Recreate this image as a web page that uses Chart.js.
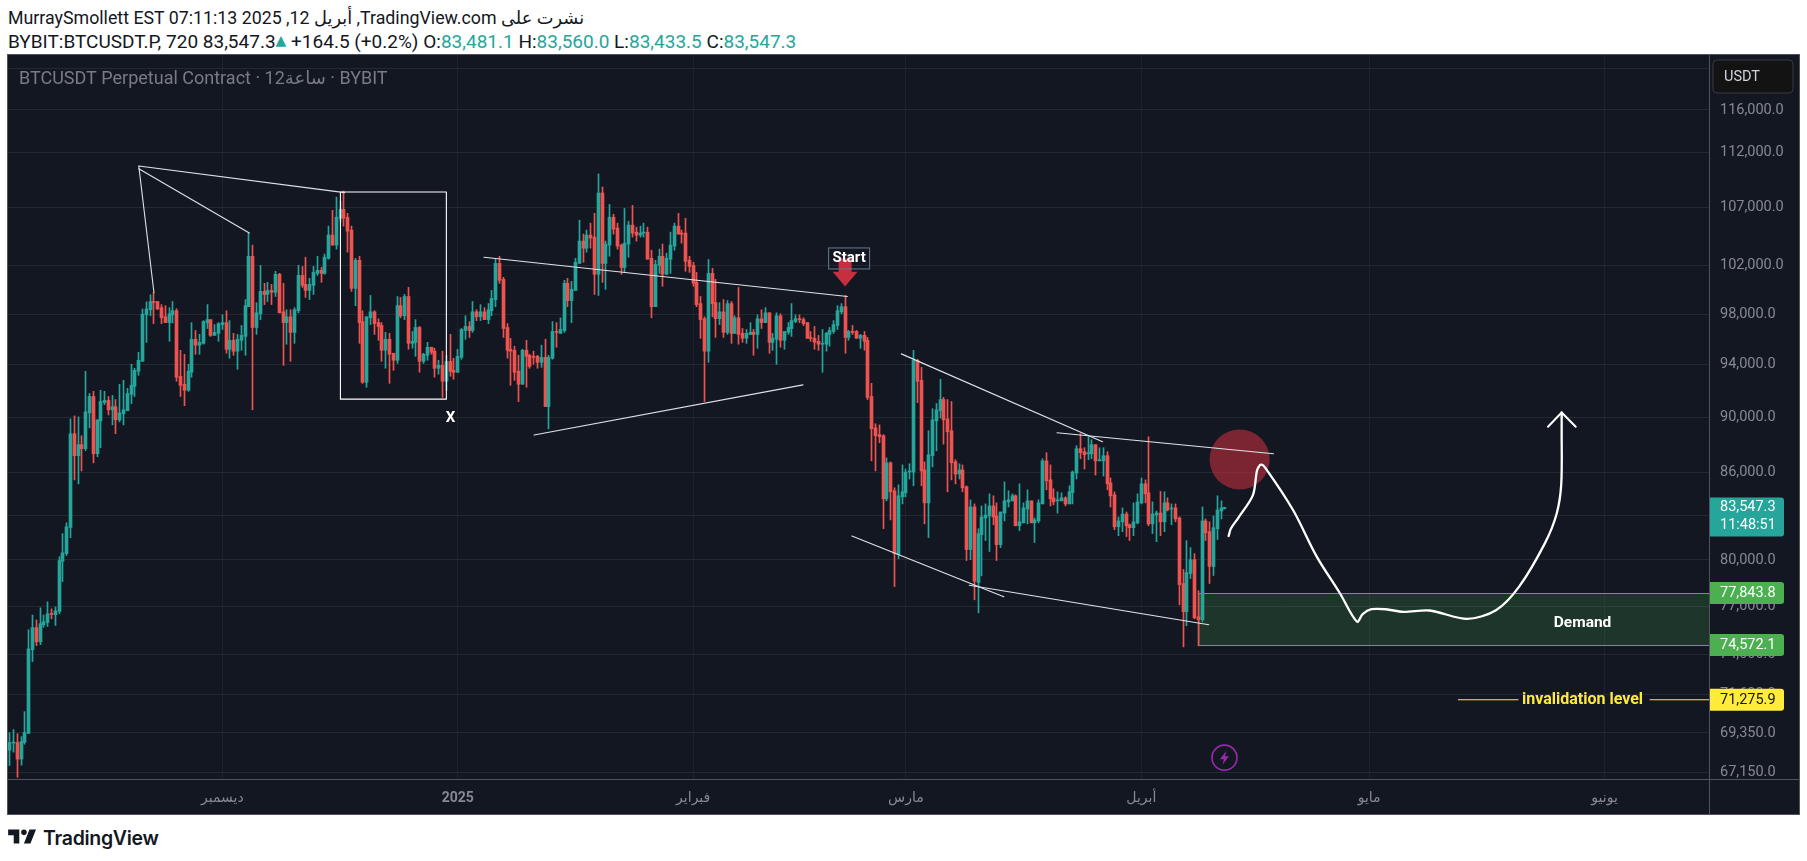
<!DOCTYPE html>
<html><head><meta charset="utf-8">
<script src="https://cdn.jsdelivr.net/npm/chart.js@4/dist/chart.umd.min.js"></script>
<style>
html,body{margin:0;padding:0;background:#fff;width:1807px;height:861px;overflow:hidden}
.h{position:absolute;left:8px;white-space:nowrap;color:#131722;font-family:Roboto,"DejaVu Sans",sans-serif;line-height:22px}
#l1{top:7px;font-size:17.8px}#l2{top:29px;font-size:19px}
.g{color:#26a69a}
#wrap{position:absolute;left:8px;top:55px;width:1791px;height:759px;outline:1px solid #50535e}
#logo{position:absolute;left:6px;top:824px}
#tv{position:absolute;left:43px;top:826px;font:600 19.5px Inter,Roboto,sans-serif;color:#131722;letter-spacing:-.3px}
</style></head><body>
<div class="h" id="l1">MurraySmollett EST 07:11:13 2025 ,12 <bdi>أبريل</bdi> ,TradingView.com <bdi>نشرت على</bdi></div>
<div class="h" id="l2">BYBIT:BTCUSDT.P, 720 83,547.3<span class="g" style="font-size:14px;vertical-align:3px">▲</span> +164.5 (+0.2%) O:<span class="g">83,481.1</span> H:<span class="g">83,560.0</span> L:<span class="g">83,433.5</span> C:<span class="g">83,547.3</span></div>
<div id="wrap"><canvas id="c" width="1791" height="759"></canvas></div>
<svg id="logo" width="34" height="26" viewBox="0 0 36 28"><path fill="#131722" d="M14 6H2v6h6v9h6V6Zm12 15h-7l6-15h7l-6 15Zm-7-9a3 3 0 1 0 0-6 3 3 0 0 0 0 6Z"/></svg>
<div id="tv">TradingView</div>
<script>
const opens=[68370,68770,68810,67870,68820,69330,74290,75650,74770,75830,
75980,76520,76460,76670,79910,80420,82180,88790,87190,87990,
87700,90330,91560,87330,89730,91100,91260,90560,90790,89810,
90260,90490,91720,92330,93490,94260,97950,98360,99030,99030,
98530,97790,97320,97950,98280,93100,92490,92030,93410,95990,
95520,95670,97320,97560,96300,96460,97160,97320,95200,95910,
95050,95910,96220,98610,102800,96930,98030,99860,99610,99940,
99780,101280,98190,97320,97790,96540,98280,101190,100440,99940,
100360,101360,101610,101360,102630,104610,103750,106080,106860,106170,
105050,100110,102460,97400,92640,97710,98190,97320,97090,95120,
95990,94890,94340,98690,97870,99440,95670,95750,96930,94260,
94730,95360,95050,93720,93950,92720,94260,93560,93410,94570,
96690,97010,96690,98190,97790,98190,97560,98280,99190,102200,
100860,96930,95200,95120,93490,92490,95120,94730,94650,94650,
94180,94570,90800,94500,96610,96460,96690,100530,99110,99940,
102200,104100,103490,104610,104440,101280,108310,102200,103750,106170,
105220,103750,101860,103840,105480,104870,104610,104790,104870,102630,
98610,102030,102800,101280,102550,103670,105390,104790,104790,102460,
102030,100610,98860,97630,95050,101360,98940,97630,98190,96540,
98860,96460,97710,96460,96070,96380,96540,96380,97630,97320,
98110,95750,95990,97870,95910,96540,96850,97400,97630,97560,
97320,96140,96070,95830,95600,95600,96380,96610,97090,98190,
98610,96140,96610,96610,96070,96300,95910,91560,89220,88720,
88640,84140,86680,84700,80360,84280,84560,86020,86020,94340,
92790,86170,83860,87190,89730,90490,91330,89880,89010,86750,
85880,86170,84980,80690,83580,78520,81690,82820,82960,83650,
82960,81020,83160,83930,84000,84350,82290,82490,83440,84000,
82490,82620,83790,86820,85470,84210,84000,84000,84210,83790,
84580,85950,87700,87480,87330,87330,87990,86820,86820,87190,
85260,84420,82220,82560,83090,82360,82160,82490,83860,85190,
84560,82420,83020,83160,82560,83860,83440,83510,82820,78460,
76650,79110,80020,76330,76150,82620,81890,79570,82090,83300,
83481.1];
const closes=[68810,68810,67870,68860,69370,74330,75650,74770,75900,76020,
76520,76480,76710,79960,80470,82220,88790,87190,87990,87700,
90410,91560,87330,89810,91180,91260,90560,90790,89810,90330,
90560,91790,92410,93560,94340,98000,98420,99030,98940,98440,
97710,97320,98030,98280,93030,92410,92030,93490,95990,95520,
95750,97400,97560,96300,96540,97240,97320,95200,95910,95050,
95990,96300,98690,102800,96930,98110,99860,99610,99940,99780,
101280,98110,97320,97790,96540,98360,101190,100360,99940,100440,
101440,101610,101360,102720,104620,103750,106170,106860,106080,104960,
100110,102460,97320,92640,97790,98190,97240,97010,95120,95990,
94810,94340,98690,97870,99440,95670,95830,96930,94260,94810,
95360,94970,93720,93950,92720,94260,93490,93410,94650,96770,
97010,96690,98190,97790,98190,97560,98360,99280,102200,100780,
96850,95120,95050,93410,92490,95120,94650,93870,94570,94180,
94570,90800,94570,96610,96540,96770,100530,99110,100030,102290,
104100,103490,104610,104360,101280,108310,102200,103840,106170,105130,
103670,101860,103920,105480,104790,104610,104790,104870,102550,98610,
102110,102800,101280,102630,103750,105390,104700,104700,102370,101940,
100530,98780,97560,95050,101360,98860,97630,98190,96540,98860,
96460,97710,96380,96070,96460,96540,96380,97630,97320,98110,
95750,96070,97870,95910,96610,96930,97480,97630,97560,97240,
96070,96070,95750,95600,95670,96460,96690,97160,98280,98610,
96140,96610,96540,96070,96300,95830,91490,89150,88640,88570,
84140,86680,84630,80420,84350,84630,86020,86100,94340,92720,
86100,83860,87260,89810,90560,91330,89810,88930,86680,85880,
86170,84910,80690,83580,78610,81760,82890,83020,83650,82890,
81020,83230,84000,84070,84350,82290,82560,83510,84000,82490,
82690,83860,86820,85400,84140,83930,84070,84210,83790,84630,
86020,87700,87410,87260,87410,87990,86820,86900,87190,85190,
84350,82220,82620,83090,82290,82160,82560,83930,85190,84490,
82420,83090,83160,82560,83860,83370,83510,82760,78390,76650,
79170,80020,76270,76150,82620,81820,79570,82160,83370,83510,
83547.3];
const highs=[69370,69540,69310,69140,70580,75520,76440,76130,76900,76440,
77280,76830,76960,80220,81760,82490,89880,90100,90030,88640,
93490,91790,91950,89810,92030,91950,91560,91640,91330,92490,
92800,92180,94030,93720,94970,98420,99000,99580,99750,99030,
98780,98690,98530,99030,98440,95120,94810,94030,97320,96690,
96380,97480,98780,97560,97160,97320,97950,98280,97480,96460,
96380,97090,99190,104790,103750,98940,102030,100530,100610,100440,
101530,101360,100530,98360,98360,98530,102030,101940,102720,100940,
101940,102800,101860,102980,105390,106770,107940,107580,108490,106510,
105390,102630,102800,98280,97790,99530,98280,97630,97320,96540,
96460,94890,99440,99360,99610,100190,96610,97560,97010,94890,
95750,95360,95280,94340,95050,94730,96380,94500,95200,96850,
97870,97400,99030,98360,98770,98530,98860,99940,102630,102800,
101030,97240,96060,95440,94730,95200,95910,94810,95050,94730,
95520,95990,94730,97400,97320,97710,100780,100940,100690,102630,
105910,104700,105050,105650,106510,110040,108850,104100,107300,106430,
105650,103840,106940,105820,107210,105300,105390,105650,105300,103320,
102460,103410,103840,103060,104870,105650,106510,105050,106080,102800,
102290,101440,99440,97790,102530,101780,100860,98940,99190,99110,
99030,97870,100190,96850,96770,97320,96770,97950,98360,98530,
98110,96460,98110,98030,96610,97320,98860,97950,97950,97710,
97320,96610,97010,96300,96770,96540,96930,97480,98690,98860,
99530,96690,97090,96690,96380,96610,96140,92560,89520,89440,
88720,87040,86750,84910,85120,86530,86240,86610,95120,94420,
93790,86750,89010,90640,91030,92870,91490,91330,91180,86900,
86610,86530,85050,84070,83790,82090,83650,83790,84490,84350,
83860,83230,85330,84700,84490,84420,85190,83860,84770,84000,
82820,84070,86970,87410,86530,84840,84630,84560,84280,85050,
86100,87910,88790,87770,88570,88350,87990,87770,87770,87480,
85600,84630,82890,83510,83230,82420,83860,84490,85600,85470,
88570,83930,83300,84650,84630,84210,83790,83790,82890,79370,
81290,80820,80420,78000,83580,82760,82560,82960,84350,84000,
83560];
const lows=[67510,68260,66860,67530,68710,69330,73560,74540,74600,75670,
75730,76210,75790,76520,78590,80290,81490,85470,85190,86100,
87550,89220,86680,87120,87770,90950,90180,89440,88790,89660,
89440,90490,91030,91560,93180,94260,95750,97870,97240,98360,
97240,97320,95830,97290,92720,91560,90870,91950,93030,94810,
94810,95600,96850,96220,96300,95830,96770,94890,94500,94730,
93640,95120,94730,98610,90560,96380,97560,98780,99030,98780,
99440,98110,93950,95600,94260,95670,98110,100190,99360,99190,
99610,101190,100610,101280,102550,103750,103410,105740,105390,103150,
99860,98690,95670,92560,92260,97160,96380,95910,94260,93720,
92560,93560,94100,97710,97560,95200,95280,94650,93410,94100,
94340,94810,93030,93260,91490,92030,93100,92870,93410,94420,
95990,96140,96540,97480,97480,97560,97240,97870,98610,100530,
96140,94500,92410,92790,91180,92490,92260,93720,94030,93720,
93790,90800,89150,94420,95360,96460,96540,98610,97320,99940,
102200,102290,103150,103490,99610,99530,100610,100030,102800,104700,
103410,101280,101440,102720,104440,104100,104440,104440,102550,97710,
98610,101360,100280,101280,101360,103320,104700,103920,101530,101440,
100280,98610,96060,91180,94180,97790,96140,97160,96140,96380,
95670,96460,95600,95750,95670,96380,94730,95280,96850,97320,
94890,95120,94030,95360,95200,96380,96220,97320,97320,97090,
96070,95830,95200,95120,93410,95050,95440,96460,96770,98030,
94890,95910,96380,96070,95280,95120,91330,86820,86100,88130,
82090,84000,82690,78260,80090,83790,84280,85530,85050,91100,
85050,82420,81490,86390,87550,89950,88030,84630,85470,85190,
85530,84630,79960,80020,77410,76580,78960,81290,80560,82360,
79960,80820,82620,83580,84000,82290,81960,82490,82420,82490,
81160,82490,83790,84770,83650,83720,83160,84000,83650,83790,
83790,85530,86970,86240,86900,86970,85810,86820,85740,84770,
83580,82020,81620,81890,81560,81290,81620,82420,83790,83860,
82290,81760,81220,81620,81890,83300,82360,82560,77090,74460,
75770,78780,76210,74520,76020,81290,78460,78980,81360,82760,
83433.5];

const yTicks=[120000,116000,112000,107000,102000,98000,94000,90000,86000,83000,80000,77000,74000,71600,69350,67150];
const monthTicks=[56,118,180,236,298,358,420];
const monthLabels=['ديسمبر','2025','فبراير','مارس','أبريل','مايو','يونيو'];
const priceMin=66763, priceMax=121387, barMin=-0.44, barMax=447.5;

const trendLines=[
 [[34,110760],[88.2,108350]],
 [[34,110760],[38,99750]],
 [[34,110500],[63.1,104790]],
 [[124.9,102720],[220.6,99440]],
 [[138.1,88690],[208.9,92440]],
 [[234.8,94840],[287.8,88200]],
 [[275.8,88860],[332.8,87330]],
 [[221.8,81600],[261.8,77600]],
 [[252.7,78350],[315.8,75830]]
];
const whiteBox=[[87.1,108400],[115,108400],[115,91360],[87.1,91360],[87.1,108400]];
const pathBars=[321,321.6,323.6,327.4,328.5,329.5,330.8,338,344.2,350.3,354.8,356.3,358.6,362.4,367,373.9,383.8,391.4,397.5,404.3,407.4,408.6,408.7,408.7];
const pathPrices=[81600,82100,82850,84400,86150,86550,86270,83350,80220,77830,76020,76500,76810,76810,76640,76730,76200,76750,78260,81120,83130,85200,89050,90360];
const arrowWings=[[405.1,89300],[408.7,90360],[412.4,89300]];
const invalidationPrice=71275.9;
const invalidationSegments=[[381.5,397.2],[432,447.5]];
const demandTop=77843.8, demandBottom=74572.1, demandStart=313;
const circleAt=[323.9,86920];
const priceTags=[[77843.8,'77,843.8','#4caf50','#fff'],[74572.1,'74,572.1','#4caf50','#fff'],[71275.9,'71,275.9','#ffeb3b','#131722']];
const lastPrice=83547.3, lastLabel='83,547.3', countdown='11:48:51';
const notes=[['X',116.1,89930,'#fff','bold 15px'],['Demand',414.2,75950,'#fff','bold 15.5px'],['invalidation level',414.2,invalidationPrice,'#ffeb3b','bold 16px']];
const startTip=[220,100270];
const boltAt=[319.9,67950];
const UP='#26a69a', DOWN='#ef5350', LINE='#dfe2e8';
const FONT='Roboto, "DejaVu Sans", sans-serif';

const colour=opens.map((o,i)=>closes[i]>=o?UP:DOWN);
const pts=a=>a.map(p=>({x:p[0],y:p[1]}));
const lineDs=(data,color,w,extra)=>Object.assign({type:'line',data,borderColor:color,borderWidth:w,pointRadius:0,fill:false,order:1,borderCapStyle:'round',borderJoinStyle:'round'},extra||{});

const datasets=[
 {type:'bar',data:highs.map((h,i)=>({x:i,y:[lows[i],h]})),backgroundColor:colour,barThickness:1,grouped:false,order:6},
 {type:'bar',data:opens.map((o,i)=>({x:i,y:[o,closes[i]]})),backgroundColor:colour,barThickness:3,grouped:false,minBarLength:1,order:5},
 ...trendLines.map(l=>lineDs(pts(l),LINE,1.1)),
 lineDs(pts(whiteBox),'#ffffff',1.1),
 lineDs(pathBars.map((b,i)=>({x:b,y:pathPrices[i]})),'#ffffff',2.3,{tension:0.3}),
 lineDs(pts(arrowWings),'#ffffff',2),
 ...invalidationSegments.map(s=>lineDs([{x:s[0],y:invalidationPrice},{x:s[1],y:invalidationPrice}],'#ffeb3b',1.1))
];

const overlay={
 id:'overlay',
 afterDatasetsUpdate(chart){
  [0,1].forEach(k=>chart.getDatasetMeta(k).data.forEach(el=>{el.x=Math.floor(el.x)+0.5;}));
 },
 beforeDatasetsDraw(chart){
  const c=chart.ctx,x=chart.scales.x,y=chart.scales.y,a=chart.chartArea;
  c.save();
  const l=x.getPixelForValue(demandStart),t=y.getPixelForValue(demandTop),b=y.getPixelForValue(demandBottom);
  c.fillStyle='rgba(76,175,80,0.2)';c.fillRect(l,t,a.right-l,b-t);
  c.strokeStyle='#4caf50';c.lineWidth=1;c.strokeRect(l+.5,Math.round(t)+.5,a.right-l,Math.round(b-t));
  c.fillStyle='rgba(191,47,60,0.6)';c.beginPath();c.arc(x.getPixelForValue(circleAt[0]),y.getPixelForValue(circleAt[1]),30,0,Math.PI*2);c.fill();
  c.font='18px '+FONT;c.fillStyle='#787b86';c.textBaseline='middle';c.textAlign='left';
  c.fillText('BTCUSDT Perpetual Contract · 12ساعة · BYBIT',11,24);
  c.restore();
 },
 afterDatasetsDraw(chart){
  const c=chart.ctx,x=chart.scales.x,y=chart.scales.y;
  c.save();
  c.textAlign='center';c.textBaseline='middle';
  notes.forEach(n=>{c.font=n[4]+' '+FONT;c.fillStyle=n[3];c.fillText(n[0],x.getPixelForValue(n[1]),y.getPixelForValue(n[2]));});
  const tx=x.getPixelForValue(startTip[0]),ty=y.getPixelForValue(startTip[1]);
  c.fillStyle='#c62f3e';c.beginPath();
  c.moveTo(tx,ty);c.lineTo(tx-12.5,ty-14.7);c.lineTo(tx-6.5,ty-14.7);c.lineTo(tx-6.5,ty-28);c.lineTo(tx+6.5,ty-28);c.lineTo(tx+6.5,ty-14.7);c.lineTo(tx+12.5,ty-14.7);c.closePath();c.fill();
  c.strokeStyle='#667a8c';c.lineWidth=1;c.strokeRect(tx-16.5,ty-38.5,41,21);
  c.fillStyle='#fff';c.font='bold 15px '+FONT;c.fillText('Start',tx+4,ty-28);
  const bx=x.getPixelForValue(boltAt[0]),by=y.getPixelForValue(boltAt[1]);
  c.strokeStyle='#9c27b0';c.lineWidth=1.6;c.beginPath();c.arc(bx,by,12.5,0,Math.PI*2);c.stroke();
  c.fillStyle='#9c27b0';c.beginPath();c.moveTo(bx+2,by-7);c.lineTo(bx-4.5,by+1.5);c.lineTo(bx-.5,by+1.5);c.lineTo(bx-2,by+7);c.lineTo(bx+4.5,by-1.5);c.lineTo(bx+.5,by-1.5);c.closePath();c.fill();
  c.restore();
 },
 afterDraw(chart){
  const c=chart.ctx,y=chart.scales.y,a=chart.chartArea;
  c.save();
  c.strokeStyle='#50535e';c.lineWidth=1;c.beginPath();
  c.moveTo(a.right+.5,0);c.lineTo(a.right+.5,chart.height);
  c.moveTo(0,a.bottom+.5);c.lineTo(chart.width,a.bottom+.5);c.stroke();
  const tag=(top,h,fill)=>{c.fillStyle=fill;c.beginPath();c.roundRect(a.right+1,top,74,h,[0,3,3,0]);c.fill();};
  c.textBaseline='middle';c.textAlign='left';c.font='14.5px '+FONT;
  priceTags.forEach(p=>{const py=y.getPixelForValue(p[0]);tag(py-11,22,p[2]);c.fillStyle=p[3];c.fillText(p[1],a.right+11,py+.5);});
  const ly=y.getPixelForValue(lastPrice);
  tag(ly-10,39,UP);c.fillStyle='#fff';c.fillText(lastLabel,a.right+11,ly);c.fillText(countdown,a.right+11,ly+18);
  c.fillStyle='#131313';c.strokeStyle='#363a45';c.beginPath();c.roundRect(a.right+4,5,80,33,4);c.fill();c.stroke();
  c.fillStyle='#d1d4dc';c.font='14.5px '+FONT;c.fillText('USDT',a.right+15,22);
  c.restore();
 }
};

new Chart(document.getElementById('c'),{
 type:'bar',
 data:{datasets},
 plugins:[overlay],
 options:{
  responsive:false,animation:false,devicePixelRatio:1,
  layout:{padding:0,autoPadding:false},
  plugins:{legend:{display:false},tooltip:{enabled:false}},
  scales:{
   x:{type:'linear',offset:false,bounds:'data',min:barMin,max:barMax,position:'bottom',
    grid:{offset:false,color:'#1e222c',drawTicks:false},border:{display:false},
    afterBuildTicks:s=>{s.ticks=monthTicks.map(v=>({value:v}));s.min=barMin;s.max=barMax;},
    afterFit:s=>{s.height=35;s.paddingLeft=0;s.paddingRight=0;},
    ticks:{autoSkip:false,maxRotation:0,padding:11,color:'#868993',
     font:ctx=>({family:FONT,size:14,weight:ctx.tick&&ctx.tick.value===118?'bold':'normal'}),
     callback:v=>monthLabels[monthTicks.indexOf(v)]}},
   y:{type:'logarithmic',position:'right',bounds:'data',min:priceMin,max:priceMax,
    grid:{color:'#242831',drawTicks:false},border:{display:false},
    afterBuildTicks:s=>{s.ticks=yTicks.map(v=>({value:v}));s.min=priceMin;s.max=priceMax;},
    afterFit:s=>{s.width=90;s.paddingTop=0;s.paddingBottom=0;},
    ticks:{autoSkip:false,padding:11,color:'#868993',font:{family:FONT,size:14.5},
     callback:v=>v.toLocaleString('en-US',{minimumFractionDigits:1,maximumFractionDigits:1})}}
  }
 }
});
</script>
<style>#c{background:#131722;display:block}</style>
</body></html>
